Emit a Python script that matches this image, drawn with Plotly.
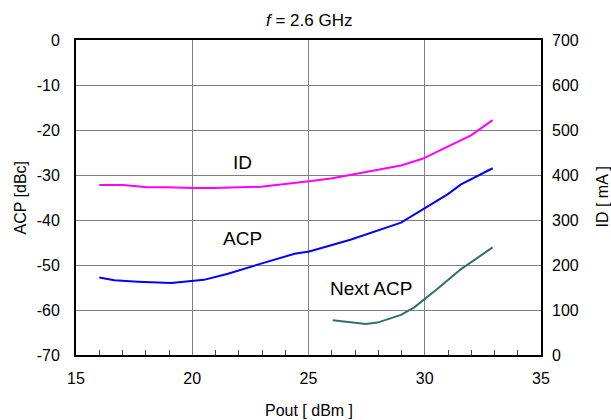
import plotly.graph_objects as go

# ACP (left axis, dBc)
acp_x = [16, 16.65, 17.65, 18.66, 19.1, 20.5, 21.5, 22.96, 24.4, 25.03, 26.8, 28.98, 29.9, 30.98, 31.56, 32.92]
acp_y = [-52.8, -53.4, -53.7, -54.0, -54.0, -53.3, -52.0, -49.7, -47.5, -47.0, -44.4, -40.6, -37.7, -34.3, -32.1, -28.5]

# Next ACP (left axis, dBc)
nacp_x = [26.04, 27.47, 27.97, 28.98, 29.55, 30.55, 31.56, 32.92]
nacp_y = [-62.3, -63.1, -62.8, -61.1, -59.4, -55.3, -50.9, -46.1]

# ID (right axis, mA)
id_x = [16, 17, 18.08, 18.9, 20.08, 20.94, 22.96, 24.1, 25.03, 25.97, 27.1, 28.1, 28.98, 29.9, 30.98, 31.99, 32.92]
id_y = [378, 378, 373, 373, 371, 371, 374, 380, 386, 392, 403, 412, 421, 436, 462, 488, 522]

# tick labels
y_ticks = [0, -10, -20, -30, -40, -50, -60, -70]
y_ticktext = ["0", "-10", "-20", "-30", "-40", "-50", "-60", "-70"]
y2_ticks = [0, 100, 200, 300, 400, 500, 600, 700]

FONT = "Liberation Sans, Arial, sans-serif"

fig = go.Figure()
fig.add_trace(go.Scatter(x=acp_x, y=acp_y, mode="lines", line=dict(color="#0000ff", width=2), name="ACP"))
fig.add_trace(go.Scatter(x=nacp_x, y=nacp_y, mode="lines", line=dict(color="#336e6e", width=2), name="Next ACP"))
fig.add_trace(go.Scatter(x=id_x, y=id_y, mode="lines", line=dict(color="#ff00ff", width=2), name="ID", yaxis="y2"))

fig.update_layout(
    width=611, height=420,
    margin=dict(l=76, r=70, t=40, b=65, autoexpand=False),
    plot_bgcolor="white", paper_bgcolor="white",
    showlegend=False,
    font=dict(family=FONT, size=16, color="black"),
    xaxis=dict(range=[15, 35], tickmode="linear", tick0=15, dtick=5, showgrid=True,
               gridcolor="#808080", gridwidth=1,
               showline=True, linecolor="black", linewidth=2, mirror=True,
               ticks="inside", ticklen=5, tickcolor="#808080", zeroline=False, automargin=False,
               ticklabelstandoff=8,
               minor=dict(tickmode="linear", tick0=15, dtick=1, ticks="inside", ticklen=5,
                          tickcolor="#444444", tickwidth=1, showgrid=False)),
    yaxis=dict(range=[-70, 0], tickvals=y_ticks, ticktext=y_ticktext, showgrid=True,
               gridcolor="#808080", gridwidth=1,
               showline=True, linecolor="black", linewidth=2, mirror=True,
               ticks="", zeroline=False, automargin=False, ticklabelstandoff=11),
    yaxis2=dict(range=[0, 700], tickvals=y2_ticks, overlaying="y", side="right", showgrid=False,
                showline=False, ticks="", zeroline=False, automargin=False, ticklabelstandoff=10),
)

# title and axis titles
fig.add_annotation(x=0.5, xref="paper", y=1 + (40 - 20) / 315, yref="paper", yanchor="middle",
                   text="<i>f</i> = 2.6 GHz", showarrow=False, font=dict(size=17))
fig.add_annotation(x=0.5, xref="paper", y=-(410 - 355) / 315, yref="paper", text="Pout [ dBm ]",
                   showarrow=False, yanchor="middle", font=dict(size=16))
fig.add_annotation(x=-(76 - 20) / 465, xref="paper", y=0.5, yref="paper", text="ACP [dBc]",
                   showarrow=False, textangle=-90, xanchor="center", font=dict(size=16))
fig.add_annotation(x=1 + (602 - 541) / 465, xref="paper", y=0.5, yref="paper", text="ID [ mA ]",
                   showarrow=False, textangle=-90, xanchor="center", font=dict(size=16))

# curve labels
fig.add_annotation(x=22.14, y=-27.3, text="ID", showarrow=False, font=dict(size=19))
fig.add_annotation(x=22.18, y=-44.0, text="ACP", showarrow=False, font=dict(size=19))
fig.add_annotation(x=27.69, y=-55.3, text="Next ACP", showarrow=False, font=dict(size=19))

fig.write_html("out.html", config={"displayModeBar": False},
               post_script="document.body.style.margin='0';document.body.style.overflow='hidden';")
